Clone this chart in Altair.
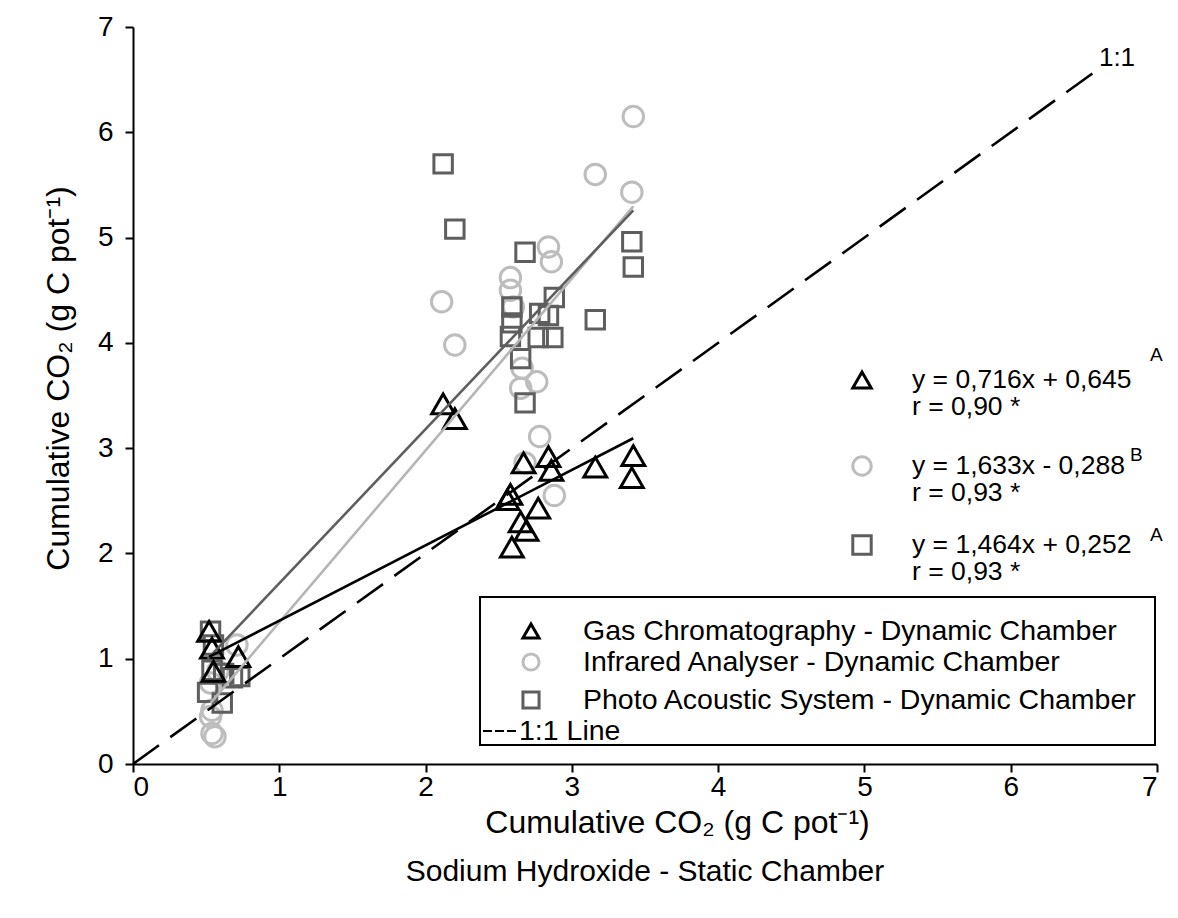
import altair as alt
import pandas as pd

# Cumulative CO2 (g C pot-1): dynamic-chamber methods against the NaOH static chamber
gc_x = [0.52, 0.54, 0.72, 0.55, 2.12, 2.20, 2.56, 2.58, 2.59, 2.65, 2.69, 2.77,
        2.67, 2.84, 2.86, 3.16, 3.42, 3.41]
gc_y = [1.26, 1.10, 1.02, 0.88, 3.42, 3.28, 2.51, 2.56, 2.06, 2.30, 2.22, 2.43,
        2.86, 2.92, 2.79, 2.82, 2.93, 2.72]

irga_x = [0.53, 0.54, 0.56, 0.54, 0.53, 0.58, 0.71, 2.11, 2.20, 2.58, 2.58, 2.60,
          2.66, 2.65, 2.76, 2.78, 2.68, 2.88, 2.84, 2.86, 3.16, 3.42, 3.41]
irga_y = [0.77, 0.51, 0.26, 0.29, 0.45, 0.88, 1.13, 4.39, 3.98, 4.62, 4.50, 4.34,
          3.76, 3.57, 3.63, 3.11, 2.86, 2.55, 4.91, 4.77, 5.60, 6.15, 5.43]

pas_x = [0.53, 0.55, 0.54, 0.62, 0.68, 0.51, 0.61, 0.73, 2.12, 2.20, 2.68, 3.41,
         3.42, 2.59, 2.59, 2.78, 2.84, 2.88, 3.16, 2.58, 2.77, 2.87, 2.65, 2.68]
pas_y = [1.26, 1.13, 0.89, 0.86, 0.82, 0.68, 0.58, 0.83, 5.70, 5.08, 4.86, 4.96,
         4.72, 4.34, 4.19, 4.28, 4.26, 4.43, 4.22, 4.06, 4.05, 4.05, 3.85, 3.43]

# fitted regressions (slope, intercept)
gc_fit = (0.716, 0.645)
irga_fit = (1.633, -0.288)
pas_fit = (1.464, 0.252)

series_names = [
    "Gas Chromatography - Dynamic Chamber",
    "Infrared Analyser - Dynamic Chamber",
    "Photo Acoustic System - Dynamic Chamber",
]
equations = [
    ("y = 0,716x + 0,645", "r = 0,90 *", "A"),
    ("y = 1,633x - 0,288", "r = 0,93 *", "B"),
    ("y = 1,464x + 0,252", "r = 0,93 *", "A"),
]
axis_title = "Cumulative CO\u2082 (g C pot\u207b\u00b9)"
x_subtitle = "Sodium Hydroxide - Static Chamber"
one_to_one_end = 6.63

FONT = "Liberation Sans"
BLACK = "#000000"
LIGHT = "#bdbdbd"
DARK = "#5e5e5e"

xscale = alt.Scale(domain=[0, 7], nice=False, zero=False)
yscale = alt.Scale(domain=[0, 7], nice=False, zero=False)

common_axis = dict(
    values=list(range(8)), format="d", grid=False,
    labelFont=FONT, labelFontSize=28, labelColor=BLACK,
    titleFont=FONT, titleFontSize=32, titleFontWeight="normal", titleColor=BLACK,
    domainColor=BLACK, domainWidth=2, tickColor=BLACK, tickWidth=2, tickSize=8,
)
xaxis = alt.Axis(title=axis_title, labelPadding=1, titleX=544, titleY=58,
                 titleBaseline="middle", **common_axis)
yaxis = alt.Axis(title=axis_title, labelPadding=12, titleX=-58, titleY=351,
                 titleBaseline="bottom", **common_axis)


def enc(chart):
    return chart.encode(
        x=alt.X("x:Q", scale=xscale, axis=xaxis),
        y=alt.Y("y:Q", scale=yscale, axis=yaxis),
    )


def points(xs, ys, shape, color, size):
    df = pd.DataFrame({"x": xs, "y": ys})
    return enc(alt.Chart(df).mark_point(
        shape=shape, filled=False, stroke=color, strokeWidth=3,
        size=size, opacity=1))


def fit_line(xs, fit, color):
    df = pd.DataFrame({"x": [min(xs), max(xs)]})
    a, b = fit
    return enc(alt.Chart(df).transform_calculate(
        y=f"{a} * datum.x + ({b})").mark_line(color=color, strokeWidth=2.6))


circles = points(irga_x, irga_y, "circle", LIGHT, 420)
squares = points(pas_x, pas_y, "square", DARK, 340)
triangles = points(gc_x, gc_y, "triangle-up", BLACK, 520)

irga_line = fit_line(irga_x, irga_fit, "#b5b5b5")
pas_line = fit_line(pas_x, pas_fit, DARK)
gc_line = fit_line(gc_x, gc_fit, BLACK)

identity = enc(alt.Chart(pd.DataFrame({"x": [0, one_to_one_end]}))
               .transform_calculate(y="datum.x")
               .mark_line(color=BLACK, strokeWidth=2.6, strokeDash=[32, 14]))

anchor = alt.Chart(pd.DataFrame({"k": [0]}))


def label(text, x, y, size=27, align="left", baseline="middle", line_height=None):
    kw = dict(text=text, font=FONT, fontSize=size, color=BLACK,
              align=align, baseline=baseline)
    if line_height is not None:
        kw["lineHeight"] = line_height
    return anchor.mark_text(**kw).encode(x=alt.value(x), y=alt.value(y))


def symbol(shape, color, size, x, y):
    return anchor.mark_point(
        shape=shape, filled=False, stroke=color, strokeWidth=3,
        size=size, opacity=1).encode(x=alt.value(x), y=alt.value(y))


shapes = [("triangle-up", BLACK), ("circle", LIGHT), ("square", DARK)]

# "1:1" tag at the end of the identity line, second x-title line
annotations = [
    label("1:1", 984, 31, size=26, align="center"),
    label(x_subtitle, 512, 845, size=30, align="center"),
]

# regression equations block: symbol, two-line equation/r text, superscript letter
eq_rows = [353, 439, 518]
for (shape, color), (eq, r, letter), yy in zip(shapes, equations, eq_rows):
    annotations.append(symbol(shape, color, 340, 729, yy))
    annotations.append(label([eq, r], 779, yy + 8, size=26.5, baseline="alphabetic",
                             line_height=27))
sup_pos = [(1017, 328), (997, 428), (1017, 508)]
for (_, _, letter), (sx, sy) in zip(equations, sup_pos):
    annotations.append(label(letter, sx, sy, size=19))

# boxed legend
legend_box = anchor.mark_rect(fill="white", stroke=BLACK, strokeWidth=2).encode(
    x=alt.value(347), x2=alt.value(1022), y=alt.value(570), y2=alt.value(718))
legend = [legend_box]
legend_rows = [604, 635, 673]
for (shape, color), name, yy in zip(shapes, series_names, legend_rows):
    legend.append(symbol(shape, color, 260, 398, yy))
    legend.append(label(name, 450, yy, size=28.5))
legend.append(anchor.mark_rule(color=BLACK, strokeWidth=1.8, strokeDash=[9, 3]).encode(
    x=alt.value(350), x2=alt.value(384), y=alt.value(704)))
legend.append(label("1:1 Line", 386, 704, size=28.5))

chart = alt.layer(
    circles, squares, triangles, irga_line, pas_line, gc_line, identity,
    *annotations, *legend,
).properties(
    width=1024, height=737,
    autosize=alt.AutoSizeParams(type="none"),
    padding={"left": 133, "top": 27, "right": 21, "bottom": 154},
    background="white",
).configure_view(stroke=None).configure_axis(labelFontSize=28, labelFont=FONT)

chart.save("out.html", embed_options={"renderer": "svg", "actions": False})
